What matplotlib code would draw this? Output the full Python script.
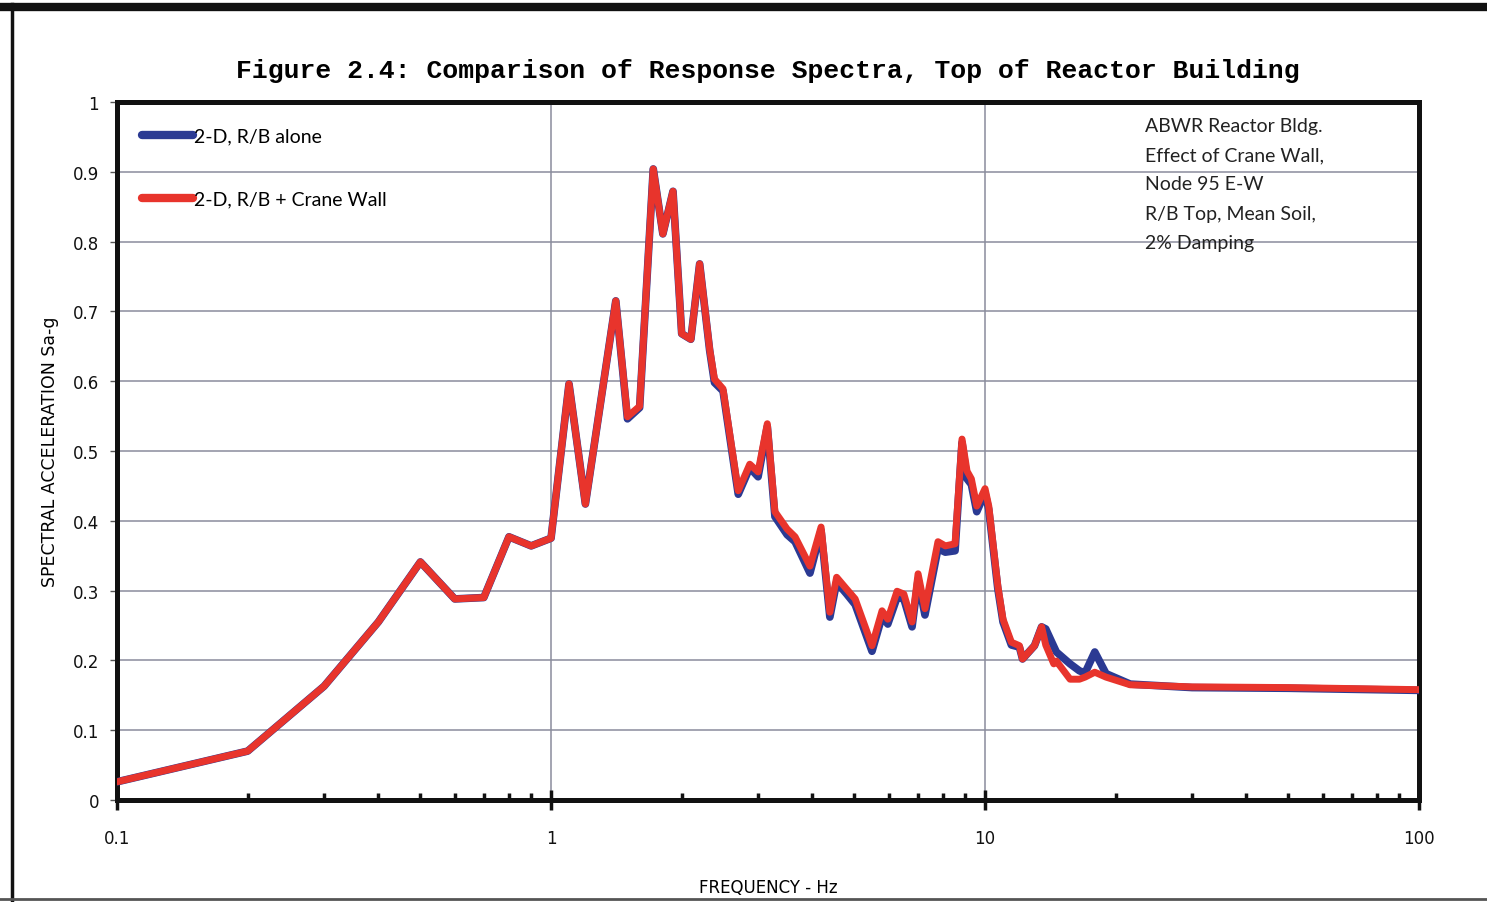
import numpy as np
import matplotlib
matplotlib.use("Agg")
import matplotlib.pyplot as plt
from matplotlib.lines import Line2D
from matplotlib.ticker import FixedLocator, NullFormatter

# frequency points (Hz), shared by both curves
freq = [0.1, 0.2, 0.3, 0.4, 0.5, 0.6, 0.7, 0.8, 0.9, 1.0,
        1.1, 1.2, 1.41, 1.5, 1.6, 1.72, 1.81, 1.91, 2.0, 2.1,
        2.2, 2.32, 2.38, 2.49, 2.7, 2.87, 3.0, 3.15, 3.28, 3.5,
        3.65, 3.95, 4.19, 4.39, 4.55, 4.8, 5.02, 5.49, 5.79, 5.97,
        6.27, 6.5, 6.79, 7.01, 7.27, 7.79, 8.1, 8.53, 8.85, 9.09,
        9.3, 9.57, 10.0, 10.2, 10.7, 11.0, 11.5, 12.0, 12.2, 13.0,
        13.5, 13.8, 14.4, 14.6, 15.7, 16.5, 17.0, 17.9, 19.0, 21.6,
        30.0, 50.0, 100.0]

# 2-D, R/B + Crane Wall (red)
sa_crane = [0.026, 0.070, 0.163, 0.255, 0.341, 0.288, 0.290, 0.377, 0.364, 0.375,
            0.596, 0.424, 0.715, 0.549, 0.564, 0.904, 0.811, 0.872, 0.668, 0.660,
            0.768, 0.646, 0.603, 0.589, 0.443, 0.481, 0.470, 0.539, 0.413, 0.388,
            0.377, 0.335, 0.391, 0.269, 0.319, 0.302, 0.288, 0.221, 0.271, 0.259,
            0.299, 0.295, 0.255, 0.324, 0.274, 0.370, 0.364, 0.367, 0.517, 0.471,
            0.460, 0.421, 0.446, 0.421, 0.307, 0.259, 0.226, 0.221, 0.202, 0.221,
            0.248, 0.222, 0.195, 0.199, 0.173, 0.173, 0.176, 0.183, 0.176, 0.165,
            0.162, 0.161, 0.158]

# 2-D, R/B alone (blue)
sa_alone = [0.026, 0.070, 0.163, 0.255, 0.341, 0.288, 0.290, 0.377, 0.364, 0.375,
            0.596, 0.424, 0.715, 0.546, 0.562, 0.904, 0.811, 0.872, 0.668, 0.660,
            0.768, 0.644, 0.598, 0.586, 0.438, 0.476, 0.463, 0.535, 0.406, 0.380,
            0.370, 0.325, 0.386, 0.262, 0.312, 0.295, 0.280, 0.213, 0.263, 0.252,
            0.290, 0.288, 0.248, 0.316, 0.265, 0.360, 0.355, 0.357, 0.512, 0.460,
            0.452, 0.413, 0.440, 0.416, 0.303, 0.255, 0.222, 0.219, 0.202, 0.221,
            0.248, 0.245, 0.220, 0.212, 0.195, 0.185, 0.182, 0.212, 0.181, 0.166,
            0.161, 0.160, 0.157]

x_ticks = [0.1, 1, 10, 100]
x_labels = ["0.1", "1", "10", "100"]
y_ticks = [0, 0.1, 0.2, 0.3, 0.4, 0.5, 0.6, 0.7, 0.8, 0.9, 1.0]
y_labels = ["0", "0.1", "0.2", "0.3", "0.4", "0.5", "0.6", "0.7", "0.8", "0.9", "1"]

note = "ABWR Reactor Bldg.\nEffect of Crane Wall,\nNode 95 E-W\nR/B Top, Mean Soil,\n2% Damping"

fig = plt.figure(figsize=(14.87, 9.03), dpi=100)
ax = fig.add_axes([0.0787, 0.113, 0.8756, 0.773])

ax.plot(freq, sa_alone, color="#2b3a93", lw=5.5, solid_capstyle="round",
        solid_joinstyle="round", label="2-D, R/B alone", zorder=3)
ax.plot(freq, sa_crane, color="#e8342c", lw=5.0, solid_capstyle="round",
        solid_joinstyle="round", label="2-D, R/B + Crane Wall", zorder=4)

ax.set_xscale("log")
ax.set_xlim(0.1, 100)
ax.set_ylim(0, 1)

# grid: decades only vertically, every 0.1 horizontally
ax.xaxis.set_major_locator(FixedLocator(x_ticks))
ax.set_xticklabels(x_labels)
ax.xaxis.set_minor_locator(FixedLocator([m * d for d in (0.1, 1, 10) for m in range(2, 10)]))
ax.xaxis.set_minor_formatter(NullFormatter())
ax.set_yticks(y_ticks)
ax.set_yticklabels(y_labels)
ax.grid(True, which="major", color="#8a8c9c", lw=1.1)
ax.set_axisbelow(True)

for s in ax.spines.values():
    s.set_linewidth(3.6)
    s.set_color("#111111")

ax.tick_params(axis="x", which="major", direction="inout", length=14, width=2.5,
               labelsize=12, pad=14, colors="#111111")
ax.tick_params(axis="x", which="minor", direction="in", length=5, width=2.5, colors="#111111")
ax.tick_params(axis="y", which="major", direction="out", length=5, width=1,
               labelsize=12, pad=8, colors="#555555", labelcolor="#111111")

ax.set_xlabel("FREQUENCY - Hz", fontsize=12, labelpad=22, family="DejaVu Sans")
ax.set_ylabel("SPECTRAL ACCELERATION Sa-g", fontsize=12.5, labelpad=10, family="DejaVu Sans")

ax.set_title("Figure 2.4: Comparison of Response Spectra, Top of Reactor Building",
             family="Liberation Mono", fontweight="bold", fontsize=19.0, pad=18)

leg = ax.legend(loc="upper left", bbox_to_anchor=(0.006, 0.988), frameon=False,
                handlelength=2.6, handletextpad=0.05, labelspacing=2.35,
                prop={"family": "Lato", "size": 14})
for h in leg.get_lines():
    h.set_linewidth(6)
    h.set_solid_capstyle("round")

ax.text(0.7896, 0.979, note, transform=ax.transAxes, va="top", ha="left",
        family="Lato", fontsize=14, linespacing=1.88, color="#222222")

# page border around the figure
fig.add_artist(Line2D([0, 1], [0.991, 0.991], color="#111111", lw=6, transform=fig.transFigure))
fig.add_artist(Line2D([0.008, 0.008], [0.0, 0.995], color="#111111", lw=2.5, transform=fig.transFigure))
fig.add_artist(Line2D([0, 1], [0.003, 0.003], color="#555555", lw=2, transform=fig.transFigure))

fig.savefig("out.png", dpi=100)
